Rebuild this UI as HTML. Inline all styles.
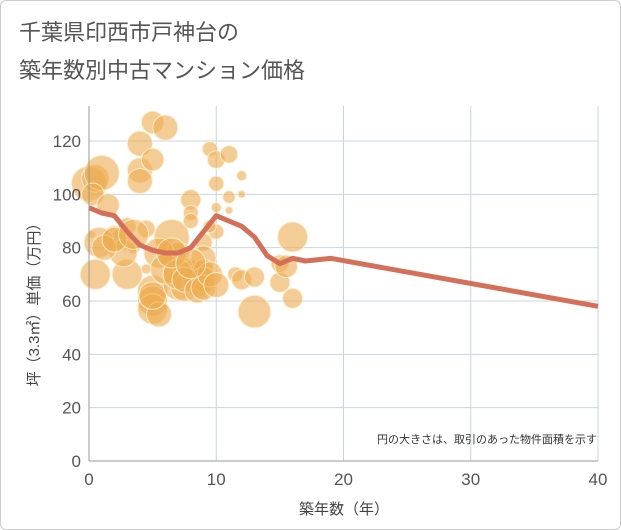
<!DOCTYPE html>
<html><head><meta charset="utf-8"><style>
body{margin:0;background:#fff}
.wrap{position:relative;width:619px;height:528px;border:1px solid #ccc;border-radius:6px;overflow:hidden;font-family:"Liberation Sans","Noto Sans CJK JP",sans-serif}
</style></head><body>
<div class="wrap">
<svg width="621" height="530" id="chart">
<text x="18" y="39" font-size="22" fill="#555" font-family="Liberation Sans,Noto Sans CJK JP,sans-serif">千葉県印西市戸神台の</text>
<text x="18" y="77" font-size="22" fill="#555" font-family="Liberation Sans,Noto Sans CJK JP,sans-serif">築年数別中古マンション価格</text>
<g id="grid"></g><g id="bubbles"></g><g id="line"></g><g id="axes"></g>
<text x="596" y="442" font-size="11" text-anchor="end" fill="#333" font-family="Liberation Sans,Noto Sans CJK JP,sans-serif">円の大きさは、取引のあった物件面積を示す</text>
<text x="343" y="513" font-size="15" text-anchor="middle" fill="#444" font-family="Liberation Sans,Noto Sans CJK JP,sans-serif">築年数（年）</text>
<text transform="translate(38,300) rotate(-90)" font-size="15" text-anchor="middle" fill="#444" font-family="Liberation Sans,Noto Sans CJK JP,sans-serif">坪（3.3㎡）単価（万円）</text>
</svg></div>
<script>
const xTicks=[0,10,20,30,40];
const yTicks=[0,20,40,60,80,100,120];
const lineX=[0,1,2,3,4,5,6,7,8,9,10,11,12,13,14,15,16,17,19,40];
const lineY=[95,93,92,86,81,79,78,78,80,86,92,90,88,84,77,74,76,75,76,58];
const bubX=[0,0.5,1,0.3,1.5,2,2.5,3,3.5,4,4,4.5,5,5,5,5,5,5.5,5,6,6,6.5,6.5,7,7,7.5,7.5,8,8,8,8,8.5,8.5,9,9,9,9,9.5,10,10,10,10,11,11,11.5,12,12,13,13,15,15,15.5,16,16,3,2.7,0.2,9.5,4.5,11,12,6,0.8,1.2,2,3.5,5.5,6,7,7.5,8.5,9,9.5,10,0.5,4,6.5,8];
const bubY=[104,106,108,100,96,84,83,88,80,119,109,87,127,113,64,60,57,55,62,125,81,84,70,78,66,72,65,98,93,90,71,68,66,82,76,72,68,117,113,104,95,86,99,115,70,107,68,56,69,67,74,73,61,84,70,78,85,88,72,94,100,76,82,80,83,85,78,72,70,68,64,65,70,66,70,105,78,74,62];
const bubR=[14,11,14,9,9,9,9,7,5,10,10,7,9,9,12,12,12,10,11,10,6,14,7,9,12,9,11,8,6,6,9,12,10,7,10,8,10,6,7,6,4,6,5,7,6,4,8,13,8,8,7,9,8,12,12,11,3,5,4,3,3,5,12,10,10,12,12,12,12,10,10,10,10,10,12,10,12,12];
const X=v=>88+v*(509/40), Y=v=>460-v*(320/120);
const ns="http://www.w3.org/2000/svg";
function mk(t,a,p){const e=document.createElementNS(ns,t);for(const k in a)e.setAttribute(k,a[k]);p.appendChild(e);return e;}
const g=document.getElementById('grid');
xTicks.forEach(v=>{const l=mk('line',{x1:X(v),x2:X(v),y1:105,y2:460,stroke:'#c8d4e2'},g);


const t=mk('text',{x:X(v),y:484,'font-size':17,'text-anchor':'middle',fill:'#555'},document.getElementById('axes'));t.textContent=v;

});
yTicks.forEach(v=>{const l=mk('line',{x1:88,x2:597,y1:Y(v),y2:Y(v),stroke:'#c8d4e2'},g);


const t=mk('text',{x:80,y:Y(v)+6,'font-size':17,'text-anchor':'end',fill:'#555'},document.getElementById('axes'));t.textContent=v;

});
const ax=document.getElementById('axes');
const a1=mk('line',{x1:88,x2:88,y1:105,y2:460,stroke:'#999'},ax);


const a2=mk('line',{x1:88,x2:597,y1:460,y2:460,stroke:'#999'},ax);


const b=document.getElementById('bubbles');
bubX.forEach((v,i)=>{const c=mk('circle',{cx:X(v),cy:Y(bubY[i]),r:bubR[i]*1.25,fill:'rgba(236,172,80,0.6)',stroke:'rgba(255,240,210,0.9)','stroke-width':1},b);

});
const p=mk('polyline',{points:lineX.map((v,i)=>X(v)+','+Y(lineY[i])).join(' '),fill:'none',stroke:'#d4705a','stroke-width':5,'stroke-linejoin':'round'},document.getElementById('line'));


</script>
</body></html>
